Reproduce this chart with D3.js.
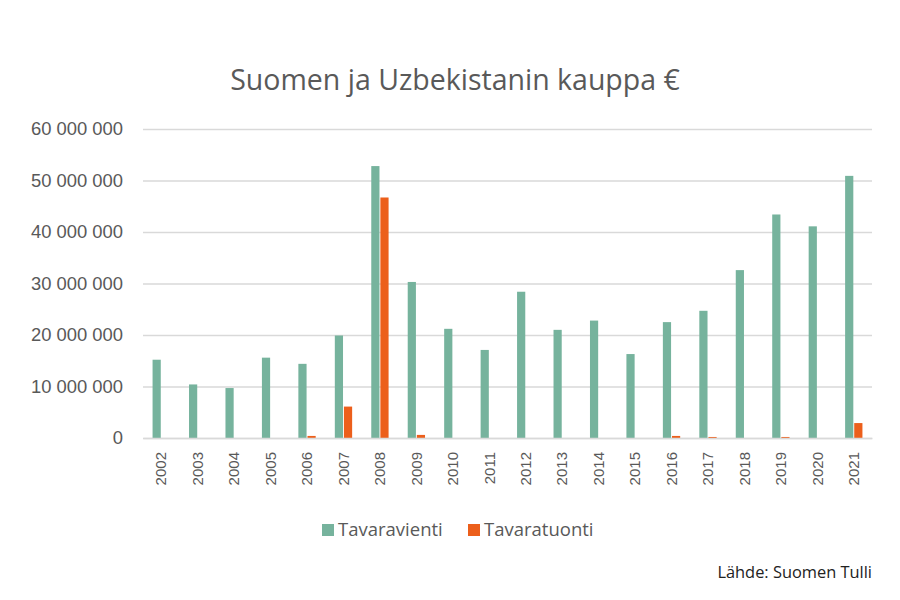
<!DOCTYPE html>
<html>
<head>
<meta charset="utf-8">
<script src="https://cdn.jsdelivr.net/npm/d3@7"></script>
<style>
  body { margin: 0; background: #fff; }
  svg { font-family: "Open Sans", "Noto Sans", sans-serif; }
</style>
</head>
<body>
<div id="chart"></div>
<script>
// years and values (euros)
const years = ["2002","2003","2004","2005","2006","2007","2008","2009","2010","2011",
               "2012","2013","2014","2015","2016","2017","2018","2019","2020","2021"];
const tavaravienti = [15200000, 10400000, 9700000, 15600000, 14400000, 19900000, 52800000, 30300000, 21200000, 17100000,
                      28400000, 21000000, 22800000, 16300000, 22500000, 24700000, 32600000, 43400000, 41100000, 50900000];
const tavaratuonti = [0, 0, 0, 0, 400000, 6100000, 46700000, 600000, 0, 0,
                      0, 0, 0, 0, 400000, 200000, 0, 200000, 0, 2900000];
const seriesNames = ["Tavaravienti", "Tavaratuonti"];
const colors = ["#76b39d", "#ec5f1b"];
const yTicks = [0, 10000000, 20000000, 30000000, 40000000, 50000000, 60000000];

const width = 900, height = 600;
const marginLeft = 143, marginRight = 28, marginTop = 129, marginBottom = 162;

const data = [];
years.forEach((yr, i) => {
  data.push({year: yr, name: seriesNames[0], value: tavaravienti[i]});
  data.push({year: yr, name: seriesNames[1], value: tavaratuonti[i]});
});

const xScale = d3.scaleBand(years, [marginLeft, width - marginRight]);
const xzScale = d3.scaleBand(seriesNames, [0, xScale.bandwidth()])
    .paddingInner(0.1).paddingOuter(1.05);
const yScale = d3.scaleLinear([0, 60000000], [height - marginBottom, marginTop]);
const color = d3.scaleOrdinal(seriesNames, colors);
const fmt = v => d3.format(",")(v).replace(/,/g, " ");

const svg = d3.create("svg")
    .attr("width", width)
    .attr("height", height)
    .attr("viewBox", [0, 0, width, height]);

svg.append("text")
    .attr("x", 455)
    .attr("y", 90)
    .attr("text-anchor", "middle")
    .attr("fill", "#595959")
    .attr("font-size", 28.5)
    .text("Suomen ja Uzbekistanin kauppa €");

// y axis + grid
svg.append("g")
    .attr("transform", `translate(${marginLeft},0)`)
    .call(d3.axisLeft(yScale).tickValues(yTicks).tickFormat(fmt).tickSize(0).tickPadding(20))
    .call(g => g.select(".domain").remove())
    .call(g => g.selectAll(".tick text").attr("fill", "#595959").attr("font-size", 18.4))
    .call(g => g.selectAll(".tick line").clone()
        .attr("x2", width - marginLeft - marginRight)
        .attr("stroke", "#d9d9d9")
        .attr("stroke-width", 1.3));

svg.append("g")
  .selectAll("rect")
  .data(data.filter(d => d.value > 0))
  .join("rect")
    .attr("x", d => xScale(d.year) + xzScale(d.name))
    .attr("y", d => yScale(d.value))
    .attr("width", xzScale.bandwidth())
    .attr("height", d => yScale(0) - yScale(d.value))
    .attr("fill", d => color(d.name));

// x axis
svg.append("g")
    .attr("transform", `translate(0,${height - marginBottom})`)
    .call(d3.axisBottom(xScale).tickSize(0).tickPadding(0))
    .call(g => g.select(".domain").attr("stroke", "#d9d9d9").attr("stroke-width", 1.5))
    .call(g => g.selectAll(".tick text")
        .attr("fill", "#595959")
        .attr("font-size", 15)
        .attr("transform", "rotate(-90)")
        .attr("text-anchor", "end")
        .attr("x", -14)
        .attr("y", 0)
        .attr("dy", "0.35em"));

// legend
const legend = svg.append("g");
const legendX = [322, 468];
seriesNames.forEach((n, i) => {
  legend.append("rect")
      .attr("x", legendX[i]).attr("y", 524)
      .attr("width", 12).attr("height", 12)
      .attr("fill", colors[i]);
  legend.append("text")
      .attr("x", legendX[i] + 16).attr("y", 530)
      .attr("dy", "0.35em")
      .attr("fill", "#595959")
      .attr("font-size", 18.5)
      .text(n);
});

svg.append("text")
    .attr("x", 872)
    .attr("y", 578)
    .attr("text-anchor", "end")
    .attr("fill", "#222")
    .attr("font-size", 16.4)
    .text("Lähde: Suomen Tulli");

document.getElementById("chart").appendChild(svg.node());
</script>
</body>
</html>
